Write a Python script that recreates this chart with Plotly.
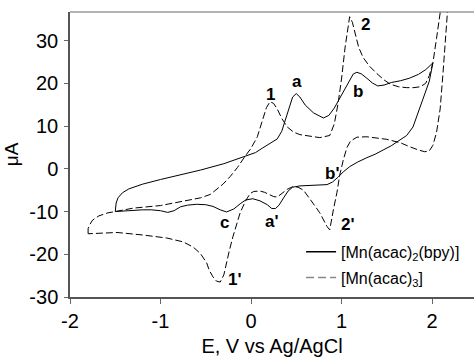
import plotly.graph_objects as go

# [Mn(acac)2(bpy)] - solid curve (forward sweep then reverse)
bpy_E = [-1.50, -1.49, -1.47, -1.42, -1.35, -1.2, -1.0, -0.8, -0.56, -0.3, -0.07, 0.05, 0.13, 0.22, 0.29,
         0.34, 0.38, 0.42, 0.46, 0.50, 0.54, 0.60, 0.69, 0.80, 0.86, 0.92, 1.0, 1.08, 1.13, 1.17, 1.22,
         1.28, 1.34, 1.40, 1.47, 1.55, 1.65, 1.75, 1.85, 1.93, 2.01,
         1.97, 1.90, 1.84, 1.79, 1.72, 1.65, 1.55, 1.46, 1.37, 1.28, 1.18, 1.09, 1.02, 0.96, 0.90, 0.84,
         0.70, 0.54, 0.46, 0.41, 0.36, 0.31, 0.27, 0.23, 0.18, 0.10, 0.02, -0.06, -0.12, -0.19, -0.27,
         -0.34, -0.42, -0.5, -0.6, -0.7, -0.78, -0.85, -0.92, -1.0, -1.1, -1.2, -1.35, -1.5]
bpy_I = [-10.0, -8.0, -6.8, -5.6, -4.7, -3.6, -2.5, -1.5, -0.3, 1.2, 2.8, 3.8, 4.9, 6.0, 7.0,
         8.8, 11.5, 14.5, 16.8, 17.6, 16.8, 14.9, 13.1, 11.9, 12.5, 14.2, 17.3, 20.6, 22.2, 22.6, 22.2,
         21.2, 20.1, 19.4, 19.6, 20.2, 20.6, 21.2, 22.1, 23.2, 24.8,
         20.5, 16.2, 12.5, 9.8, 7.8, 6.8, 5.4, 4.4, 3.4, 2.6, 1.6, 0.5, -0.7, -2.0, -3.1, -3.7,
         -3.9, -4.0, -4.3, -5.2, -6.8, -8.5, -9.3, -9.3, -8.4, -7.5, -7.0, -7.3, -8.2, -9.4, -10.1,
         -9.6, -8.8, -8.4, -8.3, -8.5, -8.9, -9.8, -10.2, -9.8, -9.6, -9.6, -9.8, -10.0]

# [Mn(acac)3] - dashed curve
acac_E = [-1.80, -1.80, -1.78, -1.75, -1.68, -1.58, -1.50, -1.3, -1.0, -0.75, -0.56, -0.45, -0.38, -0.31,
          -0.23, -0.15, -0.07, 0.0, 0.07, 0.13, 0.17, 0.21, 0.25, 0.29, 0.34, 0.40, 0.47, 0.54, 0.65, 0.76,
          0.87, 0.92, 0.96, 1.0, 1.04, 1.07, 1.09, 1.12, 1.15, 1.19, 1.24, 1.31, 1.39, 1.47, 1.54, 1.63,
          1.72, 1.80, 1.87, 1.93, 1.97, 2.01, 2.05, 2.09, 2.12,
          2.19, 2.17, 2.15, 2.12, 2.09, 2.05, 2.01, 1.97, 1.92, 1.85, 1.75, 1.65, 1.50, 1.38, 1.28, 1.17,
          1.10, 1.06, 1.02, 0.98, 0.95, 0.91, 0.89, 0.87, 0.84, 0.80, 0.76, 0.70, 0.65, 0.58, 0.52, 0.46,
          0.40, 0.35, 0.29, 0.25, 0.21, 0.15, 0.10, 0.03, -0.01, -0.06, -0.12, -0.16, -0.20, -0.24, -0.27,
          -0.30, -0.34, -0.38, -0.42, -0.46, -0.49, -0.56, -0.64, -0.75, -0.93, -1.19, -1.48, -1.65, -1.80]
acac_I = [-15.2, -14.0, -13.0, -12.0, -11.0, -10.3, -10.0, -9.2, -8.6, -7.6, -6.8, -6.0, -4.8, -3.6,
          -1.8, 0.3, 2.8, 4.8, 7.5, 11.5, 14.3, 15.7, 15.3, 14.0, 11.8, 9.8, 8.6, 8.0, 7.6, 7.3,
          7.8, 10.5, 15.0, 21.0, 28.5, 33.5, 35.6, 34.3, 31.5, 28.4, 26.0, 24.0, 22.3, 20.8, 19.8, 19.2,
          19.0, 19.0, 19.2, 20.0, 21.8, 24.8, 30.5, 36.5, 44.0,
          44.0, 36.5, 30.0, 22.0, 14.0, 8.5, 5.5, 4.2, 4.0, 4.4, 5.2, 6.1, 6.9, 7.3, 7.5, 7.4,
          6.5, 5.0, 2.1, -1.5, -5.5, -9.6, -12.5, -14.3, -13.5, -11.8, -10.3, -8.5, -7.0, -5.0, -4.3, -4.2,
          -4.8, -5.6, -6.6, -6.5, -6.1, -5.5, -5.2, -5.3, -5.8, -7.5, -10.3, -13.0, -15.9, -19.2, -22.0,
          -24.8, -26.5, -26.3, -25.3, -23.8, -22.0, -19.8, -18.3, -17.1, -16.2, -15.5, -14.9, -15.0, -15.2]

peak_labels = ["1", "a", "2", "b", "b'", "c", "a'", "1'", "2'"]
peak_E = [0.21, 0.51, 1.26, 1.18, 0.90, -0.29, 0.23, -0.18, 1.07]
peak_I = [17.3, 20.4, 33.7, 18.0, -1.0, -12.6, -12.4, -26.0, -13.1]

x_ticks = [-2, -1, 0, 1, 2]
x_tick_text = ["-2", "-1", "0", "1", "2"]
y_ticks = [-30, -20, -10, 0, 10, 20, 30]
y_tick_text = ["-30", "-20", "-10", "0", "10", "20", "30"]

FONT = "Liberation Sans, Arial, sans-serif"

fig = go.Figure()
fig.add_trace(go.Scatter(x=bpy_E, y=bpy_I, mode="lines", line=dict(color="black", width=1),
                         showlegend=False, hoverinfo="skip"))
fig.add_trace(go.Scatter(x=acac_E, y=acac_I, mode="lines",
                         line=dict(color="black", width=1, dash="7px,3px"),
                         showlegend=False, hoverinfo="skip"))
# legend entries
fig.add_trace(go.Scatter(x=[None], y=[None], mode="lines", line=dict(color="black", width=1.3),
                         name="[Mn(acac)<sub>2</sub>(bpy)]", legendgroup="g1"))
fig.add_trace(go.Scatter(x=[None], y=[None], mode="lines", line=dict(color="#888", width=1.5, dash="8px,4px"),
                         name="[Mn(acac)<sub>3</sub>]", legendgroup="g2"))

for t, xx, yy in zip(peak_labels, peak_E, peak_I):
    fig.add_annotation(x=xx, y=yy, text="<b>%s</b>" % t, showarrow=False,
                       font=dict(family=FONT, size=17, color="black"))

fig.add_shape(type="line", xref="paper", yref="paper", x0=0, x1=1, y0=1, y1=1,
              line=dict(color="#666", width=1))

fig.update_layout(
    width=474, height=358,
    margin=dict(l=70, r=0, t=12, b=61),
    paper_bgcolor="white", plot_bgcolor="white",
    font=dict(family=FONT, size=20, color="black"),
    legend=dict(x=0.572, y=0.218, xanchor="left", yanchor="top", bgcolor="rgba(0,0,0,0)",
                font=dict(family=FONT, size=16), tracegroupgap=2),
    xaxis=dict(range=[-2, 2.464], tickvals=x_ticks, ticktext=x_tick_text, ticks="outside", ticklen=5,
               tickwidth=1, tickcolor="#666", showline=True, linecolor="#555", linewidth=2, showgrid=False,
               zeroline=False, title=dict(text="E, V vs Ag/AgCl", font=dict(size=20), standoff=8)),
    yaxis=dict(range=[-30, 36.7], tickvals=y_ticks, ticktext=y_tick_text, ticks="outside", ticklen=4,
               tickwidth=1, tickcolor="#666", showline=True, linecolor="#555", linewidth=1.5, showgrid=False,
               zeroline=False, ticklabelstandoff=2,
               title=dict(text="μA", font=dict(size=19), standoff=6)),
)

fig.write_html("out.html", config={"displayModeBar": False},
               post_script="document.body.style.margin='0';document.body.style.overflow='hidden';")
